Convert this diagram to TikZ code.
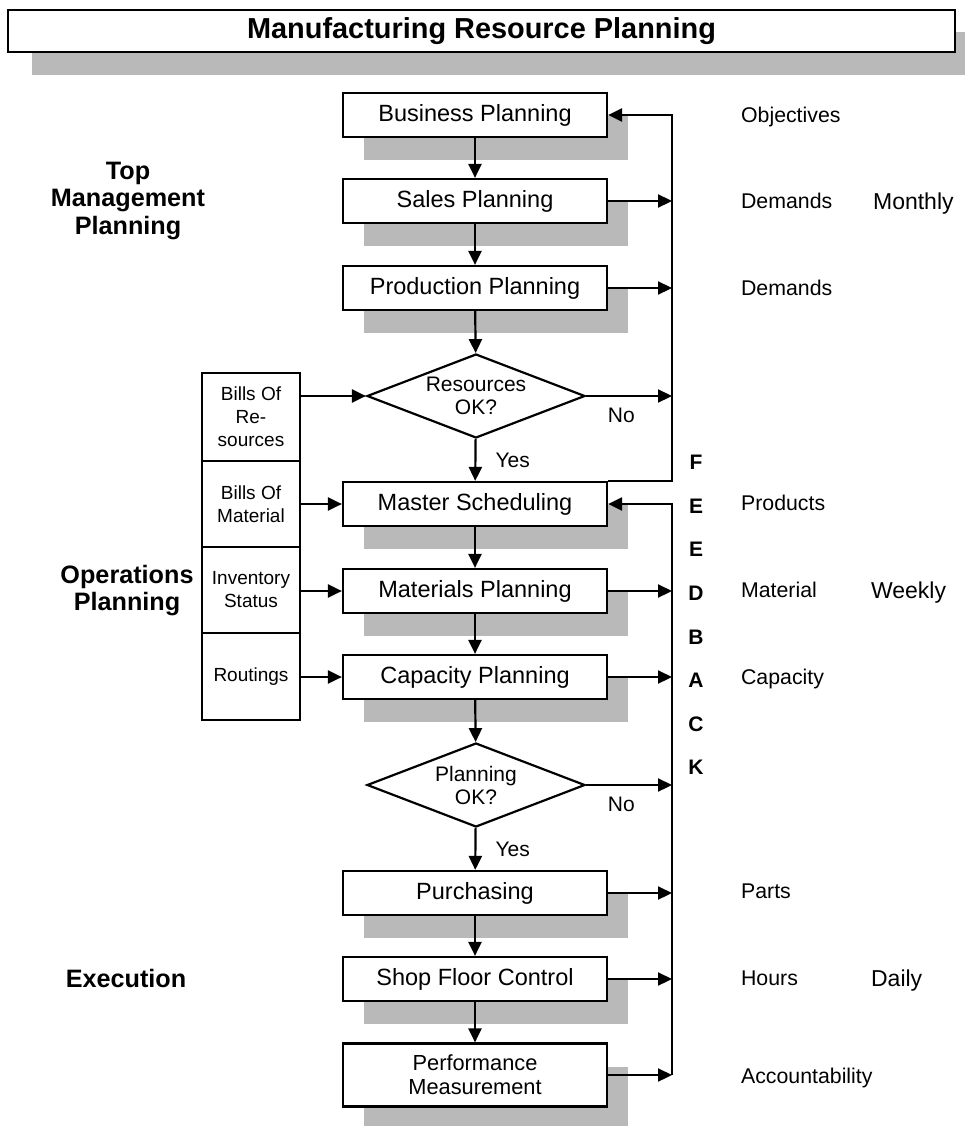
\documentclass[tikz,border=0pt]{standalone}
\usepackage{fontspec}
\setmainfont{Liberation Sans}
\usetikzlibrary{shapes.geometric,arrows.meta,shadows}
\begin{document}
\begin{tikzpicture}[x=1pt,y=-1pt,
  line width=2.2pt,
  >={Triangle[length=14pt,width=13pt]},
  shade/.style={drop shadow={shadow xshift=21pt,shadow yshift=-23pt,fill=gray!55,opacity=1,draw=none}},
  mainbox/.style={draw,fill=white,shade,minimum width=264pt,minimum height=44pt,inner sep=0pt,align=center,font=\fontsize{23.5}{26}\selectfont},
  inbox/.style={draw,fill=white,minimum width=98pt,inner sep=0pt,align=center,font=\fontsize{19}{23}\selectfont},
  decision/.style={draw,fill=white,diamond,aspect=2.6,minimum width=218pt,minimum height=84pt,inner sep=0pt,align=center,font=\fontsize{21}{23}\selectfont},
  rlabel/.style={anchor=base west,inner sep=0pt,yshift=-7.6pt,font=\fontsize{21.3}{24}\selectfont},
  freq/.style={anchor=base west,inner sep=0pt,yshift=-8.2pt,font=\fontsize{23}{26}\selectfont},
  phase/.style={align=center,inner sep=0pt,font=\bfseries\fontsize{25.2}{27.5}\selectfont},
  yn/.style={inner sep=0pt,font=\fontsize{21}{24}\selectfont}
]
\useasboundingbox (0,0) rectangle (965,1126);

% title
\fill[gray!55] (32,32) rectangle (965,75);
\node[draw,fill=white,line width=2.6pt,minimum width=947pt,minimum height=42pt,inner sep=0pt,
      font=\bfseries\fontsize{28.9}{30}\selectfont] (title) at (481.5,31) {Manufacturing Resource Planning};

% main column
\node[mainbox] (bp) at (475,115) {Business Planning};
\node[mainbox] (sp) at (475,201) {Sales Planning};
\node[mainbox] (pp) at (475,288) {Production Planning};
\node[decision] (rok) at (476,396) {Resources\\OK?};
\node[mainbox] (ms) at (475,504) {Master Scheduling};
\node[mainbox] (mp) at (475,591) {Materials Planning};
\node[mainbox] (cp) at (475,677) {Capacity Planning};
\node[decision] (pok) at (476,785) {Planning\\OK?};
\node[mainbox] (pu) at (475,893) {Purchasing};
\node[mainbox] (sf) at (475,979) {Shop Floor Control};
\node[mainbox,minimum height=63pt,font=\fontsize{21.8}{24}\selectfont] (pm) at (475,1075) {Performance\\Measurement};

% input boxes
\node[inbox,minimum height=88pt] (bor) at (251,417) {Bills Of\\Re-\\sources};
\node[inbox,minimum height=86pt] (bom) at (251,504) {Bills Of\\Material};
\node[inbox,minimum height=86pt] (inv) at (251,590) {Inventory\\Status};
\node[inbox,minimum height=87pt] (rou) at (251,676.5) {Routings};

% main flow
\draw[->] (bp) -- (sp);
\draw[->] (sp) -- (pp);
\draw[->] (pp) -- (rok);
\draw[->] (rok) -- node[yn,anchor=west,xshift=19pt] (yes1) {Yes} (ms);
\draw[->] (ms) -- (mp);
\draw[->] (mp) -- (cp);
\draw[->] (cp) -- (pok);
\draw[->] (pok) -- node[yn,anchor=west,xshift=19pt] (yes2) {Yes} (pu);
\draw[->] (pu) -- (sf);
\draw[->] (sf) -- (pm);

% inputs
\draw[->] (bor.east |- rok.west) -- (rok.west);
\draw[->] (bom.east |- ms.west) -- (ms.west);
\draw[->] (inv.east |- mp.west) -- (mp.west);
\draw[->] (rou.east |- cp.west) -- (cp.west);

% feedback
\coordinate (fbx) at (672,0);
\draw[->] (ms.north east) -- (ms.north east -| fbx) -- (bp.east -| fbx) -- (bp.east);
\draw[->] (sp.east) -- (sp.east -| fbx);
\draw[->] (pp.east) -- (pp.east -| fbx);
\draw[->] (rok.east) -- node[yn,pos=0.41,anchor=north,yshift=-11pt] (no1) {No} (rok.east -| fbx);
\draw[->] (pm.east -| fbx) -- (ms.east -| fbx) -- (ms.east);
\draw[->] (mp.east) -- (mp.east -| fbx);
\draw[->] (cp.east) -- (cp.east -| fbx);
\draw[->] (pok.east) -- node[yn,pos=0.41,anchor=north,yshift=-11pt] (no2) {No} (pok.east -| fbx);
\draw[->] (pu.east) -- (pu.east -| fbx);
\draw[->] (sf.east) -- (sf.east -| fbx);
\draw[->] (pm.east) -- (pm.east -| fbx);

\node[align=center,inner sep=0pt,font=\bfseries\fontsize{21}{43.6}\selectfont] (fb) at (696,615) {F\\E\\E\\D\\B\\A\\C\\K};

% phase labels
\node[phase] (top) at (128,201) {Top\\Management\\Planning};
\node[phase] (ops) at (127,590.5) {Operations\\Planning};
\node[phase] (exe) at (126,978) {Execution};

% right labels
\node[rlabel] (l1) at (740,115) {Objectives};
\node[rlabel] (l2) at (740,201) {Demands};
\node[freq] (f1) at (872,201) {Monthly};
\node[rlabel] (l3) at (740,288) {Demands};
\node[rlabel] (l4) at (740,503) {Products};
\node[rlabel] (l5) at (740,590) {Material};
\node[freq] (f2) at (870,590) {Weekly};
\node[rlabel] (l6) at (740,677) {Capacity};
\node[rlabel] (l7) at (740,891) {Parts};
\node[rlabel] (l8) at (740,978) {Hours};
\node[freq] (f3) at (870,978) {Daily};
\node[rlabel] (l9) at (740,1076) {Accountability};
\end{tikzpicture}
\end{document}
